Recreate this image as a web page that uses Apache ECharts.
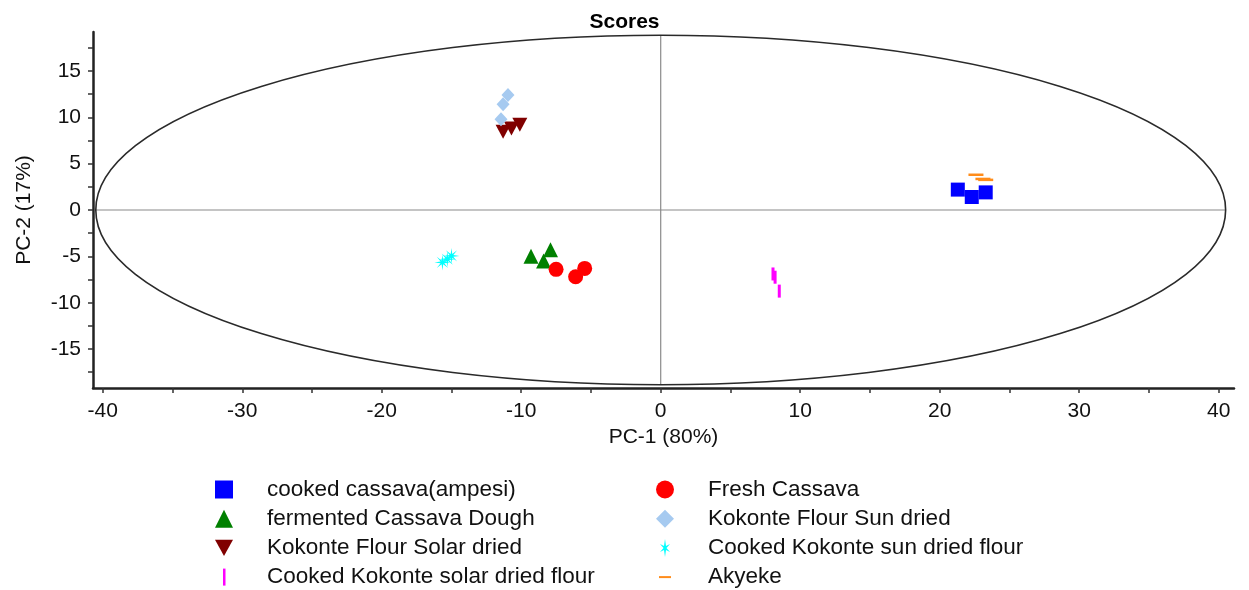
<!DOCTYPE html>
<html>
<head>
<meta charset="utf-8">
<script src="https://cdn.jsdelivr.net/npm/echarts@6/dist/echarts.min.js"></script>
<style>html,body{margin:0;padding:0;background:#fff;}#chart{width:1249px;height:590px;}</style>
</head>
<body>
<div id="chart"></div>
<script>
// ---- data ----
const seriesNames = [
  'cooked cassava(ampesi)', 'fermented Cassava Dough', 'Kokonte Flour Solar dried', 'Cooked Kokonte solar dried flour',
  'Fresh Cassava', 'Kokonte Flour Sun dried', 'Cooked Kokonte sun dried flour', 'Akyeke'
];
const cookedCassava = [[21.3, 2.2], [22.3, 1.4], [23.3, 1.9]];
const fermentedDough = [[-9.3, -5.0], [-8.4, -5.5], [-7.9, -4.3]];
const kokonteSolar = [[-11.3, 8.45], [-10.7, 8.8], [-10.1, 9.2]];
const cookedKokonteSolar = [[8.05, -6.9], [8.2, -7.25], [8.5, -8.75]];
const freshCassava = [[-7.5, -6.4], [-6.1, -7.2], [-5.45, -6.3]];
const kokonteSun = [[-10.95, 12.4], [-11.3, 11.4], [-11.45, 9.8]];
const cookedKokonteSun = [[-15.65, -5.65], [-15.3, -5.3], [-15.0, -4.95]];
const akyeke = [[22.6, 3.8], [23.1, 3.35], [23.3, 3.25]];

const xTicks = [-40, -35, -30, -25, -20, -15, -10, -5, 0, 5, 10, 15, 20, 25, 30, 35, 40];
const xLabels = [-40, -30, -20, -10, 0, 10, 20, 30, 40];
const yTicks = [-17.5, -15, -12.5, -10, -7.5, -5, -2.5, 0, 2.5, 5, 7.5, 10, 12.5, 15, 17.5];
const yLabels = [-15, -10, -5, 0, 5, 10, 15];
const ellipse = [[0, 0, 40.5, 18.85]]; // center x, center y, semi-axis x, semi-axis y

// ---- styles ----
const FONT = '"Liberation Sans", Arial, sans-serif';
const starPath = 'path://M20,10L12.31,10.96L17.07,17.07L10.96,12.31L10,20L9.04,12.31L2.93,17.07L7.69,10.96L0,10L7.69,9.04L2.93,2.93L9.04,7.69L10,0L10.96,7.69L17.07,2.93L12.31,9.04Z';
const starIcon = 'path://M0,0M18,18M9,0L10,7L14,5L10.5,9L14,13L10,11L9,18L8,11L4,13L7.5,9L4,5L8,7Z';
const downTri = 'path://M0,0L10,0L5,9Z';
const vbarIcon = 'path://M0,0M18,18M8,0.5L10.5,0.5L10.5,17.5L8,17.5Z';
const hbarIcon = 'path://M0,0M18,18M3,8L15,8L15,10L3,10Z';

const chart = echarts.init(document.getElementById('chart'));

function sc(name, data, symbol, size, color) {
  return {
    type: 'scatter', name: name, data: data, symbol: symbol, symbolSize: size,
    itemStyle: { color: color, opacity: 1 }, z: 5
  };
}

const legendText = { fontFamily: FONT, fontSize: 22.5, color: '#111', lineHeight: 22, padding: [0, 0, 0, 29] };

chart.setOption({
  animation: false,
  backgroundColor: '#fff',
  title: {
    text: 'Scores', left: 'center', top: 7,
    textStyle: { fontFamily: FONT, fontSize: 21, fontWeight: 'bold', color: '#000' }
  },
  grid: { left: 93, right: 15, top: 32, bottom: 202, containLabel: false },
  xAxis: {
    type: 'value', min: -40.7, max: 41.1,
    name: 'PC-1 (80%)', nameLocation: 'middle', nameGap: 34,
    nameTextStyle: { fontFamily: FONT, fontSize: 21, color: '#111' },
    axisLine: { show: true, onZero: false, lineStyle: { color: '#222', width: 2.5 } },
    axisTick: { show: true, customValues: xTicks, length: 5, lineStyle: { color: '#333', width: 1.5 } },
    axisLabel: { customValues: xLabels, fontFamily: FONT, fontSize: 21, color: '#111', margin: 13 },
    splitLine: { show: false }
  },
  yAxis: {
    type: 'value', min: -19.2, max: 19.2,
    name: 'PC-2 (17%)', nameLocation: 'middle', nameGap: 58, nameRotate: 90,
    nameTextStyle: { fontFamily: FONT, fontSize: 21, color: '#111' },
    axisLine: { show: true, onZero: false, lineStyle: { color: '#222', width: 2.5 } },
    axisTick: { show: true, customValues: yTicks, length: 5, lineStyle: { color: '#333', width: 1.5 } },
    axisLabel: { customValues: yLabels, fontFamily: FONT, fontSize: 21, color: '#111', margin: 12 },
    splitLine: { show: false }
  },
  legend: [
    {
      orient: 'vertical', left: 215, top: 478, height: 200, padding: 0,
      itemWidth: 18, itemHeight: 18, itemGap: 6.2,
      textStyle: legendText, selectedMode: false,
      data: [
        { name: seriesNames[0], icon: 'rect' },
        { name: seriesNames[1], icon: 'triangle' },
        { name: seriesNames[2], icon: downTri },
        { name: seriesNames[3], icon: vbarIcon }
      ]
    },
    {
      orient: 'vertical', left: 656, top: 478, height: 200, padding: 0,
      itemWidth: 18, itemHeight: 18, itemGap: 6.2,
      textStyle: legendText, selectedMode: false,
      data: [
        { name: seriesNames[4], icon: 'circle' },
        { name: seriesNames[5], icon: 'diamond' },
        { name: seriesNames[6], icon: starIcon },
        { name: seriesNames[7], icon: hbarIcon }
      ]
    }
  ],
  series: [
    {
      type: 'custom', name: 'ellipse', data: ellipse, silent: true, z: 1,
      renderItem: function (params, api) {
        const c = api.coord([api.value(0), api.value(1)]);
        const s = api.size([api.value(2), api.value(3)]);
        const rx = s[0], ry = s[1];
        const d = 'M ' + (c[0] - rx) + ' ' + c[1] +
          ' A ' + rx + ' ' + ry + ' 0 1 0 ' + (c[0] + rx) + ' ' + c[1] +
          ' A ' + rx + ' ' + ry + ' 0 1 0 ' + (c[0] - rx) + ' ' + c[1] + ' Z';
        return {
          type: 'group', children: [
            { type: 'line', shape: { x1: c[0] - rx, y1: c[1], x2: c[0] + rx, y2: c[1] }, style: { stroke: '#8a8a8a', lineWidth: 1.2 } },
            { type: 'line', shape: { x1: c[0], y1: c[1] - ry, x2: c[0], y2: c[1] + ry }, style: { stroke: '#8a8a8a', lineWidth: 1.2 } },
            { type: 'path', shape: { pathData: d }, style: { fill: 'none', stroke: '#2a2a2a', lineWidth: 1.6 } }
          ]
        };
      }
    },
    sc(seriesNames[0], cookedCassava, 'rect', 14, '#0000ff'),
    sc(seriesNames[1], fermentedDough, 'triangle', 15, '#008000'),
    sc(seriesNames[2], kokonteSolar, downTri, [15, 14], '#800000'),
    sc(seriesNames[3], cookedKokonteSolar, 'rect', [3, 13], '#ff00ff'),
    sc(seriesNames[4], freshCassava, 'circle', 15, '#ff0000'),
    sc(seriesNames[5], kokonteSun, 'diamond', [13, 14], '#a6caf0'),
    sc(seriesNames[6], cookedKokonteSun, starPath, 16, '#00ffff'),
    sc(seriesNames[7], akyeke, 'rect', [15, 2.5], '#ff8c1a')
  ]
});
</script>
</body>
</html>
